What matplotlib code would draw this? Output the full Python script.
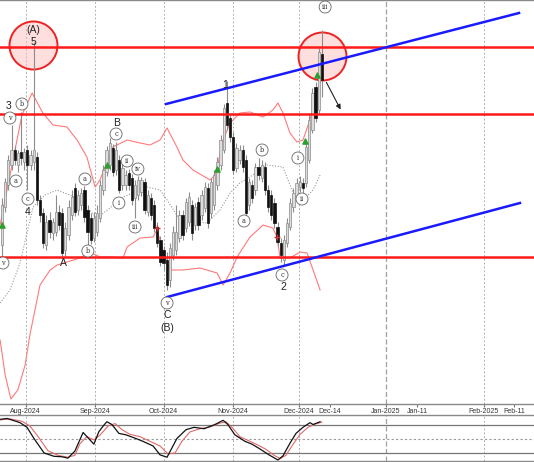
import matplotlib
matplotlib.use("Agg")
import matplotlib.pyplot as plt

# ---------------- data (price units, bar index) ----------------
opens = [159,197,219,239,254,239,252,242,254,239,242,247,204,191,159,184,171,172,192,191,
         154,169,189,216,194,199,214,194,186,166,172,186,214,232,239,256,234,244,219,219,
         231,226,206,209,212,222,192,206,199,177,164,154,144,124,149,154,166,189,176,182,
         199,179,202,189,196,216,191,199,219,239,254,301,286,267,236,244,254,244,199,219,
         214,237,226,237,214,209,201,177,161,144,161,177,197,207,217,221,221,244,274,317,
         294,350]
closes = [199,222,244,254,244,251,246,252,239,249,254,204,189,161,182,172,182,192,179,151,
          176,197,207,192,209,211,187,172,164,186,191,219,234,254,261,232,254,214,236,229,
          219,204,219,224,224,194,209,189,176,161,142,141,119,156,172,172,189,169,202,207,
          171,197,179,209,217,181,222,229,242,264,296,279,267,234,256,254,237,191,222,206,
          237,229,239,214,197,189,181,162,149,164,181,201,211,221,222,216,257,284,311,286,
          352,324]
highs = [206,226,249,279,258,254,292,256,259,254,362,252,209,196,189,192,186,209,199,196,
         182,204,214,221,214,216,218,199,191,192,199,224,239,258,266,260,262,249,241,234,
         235,230,224,228,227,226,214,211,204,182,168,158,152,161,178,199,194,194,206,212,
         204,201,207,214,222,221,226,234,247,269,300,323,291,272,261,259,259,249,226,224,
         241,246,244,242,219,214,206,182,166,169,186,206,216,226,228,226,262,289,316,322,
         356,374]
lows = [146,192,214,234,239,232,239,234,214,234,234,199,182,156,154,166,164,168,174,146,
        148,164,184,188,189,194,182,159,160,162,168,182,209,228,234,228,229,211,214,214,
        214,199,186,204,208,190,188,184,172,157,138,134,114,117,144,149,162,164,172,178,
        164,174,174,184,192,176,186,194,214,234,251,274,262,230,232,240,232,188,194,201,
        209,224,222,209,192,184,176,158,142,138,157,174,192,204,212,211,217,241,271,282,
        290,307]

# Bollinger bands (bar index, price)
bb_up_x = [-0.6,1.9,4.1,6.3,9.5,12.9,16.1,20.5,23.7,26.8,29.4,30.9,33.1,35.0,39.5,43.6,46.7,49.9,
           52.1,55.2,57.1,60.3,65.7,67.2,67.9,69.4,72.0,75.1,78.3,82.4,85.5,87.1,88.7,90.9,93.1,
           95.0,97.2,99.4,101.0]
bb_up_y = [179,219,254,289,311,291,279,277,264,247,217,224,241,257,264,261,259,264,
           276,257,244,234,224,229,234,261,281,291,292,287,294,301,291,271,262,
           264,284,311,329]
bb_lo_x = [-0.6,1,2.8,5,7.3,8.8,10.4,12,15.2,17.4,20.5,24.6,27.8,30.9,34.1,38.2,39.5,43.6,47.7,
           48.9,50.8,53,57.1,62.5,67.9,69.8,72,74.2,78.3,82.4,85.5,86.8,87.8,90.9,94.1,96.3,98.2,100.4]
bb_lo_y = [64,29,5,14,39,69,94,119,134,139,142,146,152,147,147,146,157,166,167,
           174,154,134,134,136,131,119,131,147,167,179,176,167,146,146,152,151,134,114]
bb_mid_x = [-0.6,2.5,5.7,9.8,13.6,17.4,23.7,30.0,34.1,38.2,45.8,49.9,52.1,56.2,64.7,68.8,72.0,
            75.1,79.2,83.6,88.7,91.9,95.0,98.2,100.4]
bb_mid_y = [101,114,141,197,209,214,206,186,196,207,217,214,204,184,181,194,211,
            221,229,239,237,211,204,214,229]

# Stochastic oscillator
stk_x = [-0.6,1.6,5.7,7.9,10.1,13.3,16.4,18.9,20.8,23.0,25.6,27.5,29.0,30.6,32.2,33.1,34.7,36.9,
         39.1,42.3,44.5,47.7,49.9,52.1,55.2,58.1,60.6,63.8,67.2,69.8,71.3,73.5,76.7,78.9,81.1,
         84.3,87.1,88.7,90.9,92.8,95.0,97.2,98.2,100.4]
stk_k = [92,94,85,75,51,20,13,12,9,24,64,50,39,66,80,87,81,62,59,51,45,35,16,11,51,70,75,72,81,
         90,81,59,45,39,30,16,5,14,41,62,75,85,81,87]
std_x = [-0.6,2.5,6.3,8.8,11.4,14.5,17.7,20.8,23.0,24.6,26.8,29.0,30.9,33.5,35.7,37.9,40.4,43.6,
         46.7,49.9,52.4,54.6,56.8,59.3,62.5,65.7,68.8,70.7,72.6,75.1,78.3,80.8,83.3,85.9,87.8,
         89.6,91.5,94.1,96.6,98.8,101.0]
std_d = [91,93,88,78,55,25,15,11,15,40,55,48,58,78,83,70,60,55,45,35,18,20,45,65,72,76,84,87,75,
         55,45,37,28,15,8,15,35,60,75,82,86]

# horizontal levels and trend lines
levels = [357, 290, 147]
up_trend = ([51.8, 163.2], [300, 391])
lo_trend = ([52.1, 163.5], [107, 201])

# date axis
tick_pos = [7.42, 29.48, 50.98, 72.79, 93.66, 103.44, 121.2, 131.0, 152.0, 161.6]
tick_lab = ["Aug-2024", "Sep-2024", "Oct-2024", "Nov-2024", "Dec-2024", "Dec-14",
            "Jan-2025", "Jan-11", "Feb-2025", "Feb-11"]
grid_pos = [7.42, 29.48, 50.98, 72.79, 93.66, 152.0]
grid_major = [121.2]

# wave labels
wave_txt = ["(A)", "5", "3", "4", "A", "B", "C", "(B)", "1", "2"]
wave_x = [9.8, 9.8, 2.2, 8.2, 19.3, 36.3, 52.1, 52.1, 70.4, 88.7]
wave_y = [374, 362, 298, 192, 141, 281, 89, 76, 319, 117]
circ_txt = ["v", "b", "a", "c", "v", "a", "b", "c", "ii", "i", "iv", "iii", "v", "a", "b", "c",
            "i", "ii", "iii"]
circ_x = [2.5, 6.3, 4.4, 8.2, 0.3, 26.2, 27.1, 36.0, 39.5, 36.9, 42.9, 42.0, 52.1, 76.4, 82.1,
          88.4, 93.4, 94.7, 102.0]
circ_y = [286, 300, 223, 205, 141, 225, 153, 270, 243, 201, 235, 177, 101, 183, 254, 129, 246,
          205, 397]
zone_x = [9.8, 101.0]
zone_y = [359, 348]
sig_up_x = [0, 33.1, 67.9, 95.6, 99.4]
sig_up_y = [179, 239, 235, 263, 329]
sig_dn_x = [48.9, 86.8]
sig_dn_y = [176, 167]

# ---------------- figure ----------------
W, H = 534, 462
fig = plt.figure(figsize=(W / 100, H / 100), dpi=100)
ax = fig.add_axes([0, 58 / H, 1, 404 / H])
osc = fig.add_axes([0, 1 / H, 1, 46 / H])

xlim = (-0.631, 167.93)
for a in (ax, osc):
    a.set_xlim(*xlim)
    for g in grid_pos:
        a.axvline(g, color="#b0b0b0", lw=0.7, ls=(0, (2, 2)), zorder=0)
    for g in grid_major:
        a.axvline(g, color="#a0a0a0", lw=0.9, ls=(0, (4, 2)), zorder=0)
    for s in ("left", "right"):
        a.spines[s].set_visible(False)
    for s in ("top", "bottom"):
        a.spines[s].set_color("#8a8a8a")
        a.spines[s].set_linewidth(1.0)

ax.set_ylim(0, 404)
ax.set_yticks([])

# zones (circles)
ax.scatter(zone_x, zone_y, s=(48 * 0.72) ** 2, facecolor=(1, 0.75, 0.75, 0.5),
           edgecolor="#ee2222", linewidth=1.4, zorder=1)

# bands
ax.plot(bb_up_x, bb_up_y, color="#ff7a7a", lw=0.8, zorder=2)
ax.plot(bb_lo_x, bb_lo_y, color="#ff7a7a", lw=0.8, zorder=2)
ax.plot(bb_mid_x, bb_mid_y, color="#9a9a9a", lw=0.8, ls=(0, (1, 1.5)), zorder=2)

# candles
idx = list(range(len(opens)))
ax.vlines(idx, lows, highs, color="#8c8c8c", lw=0.8, zorder=3)
for i, (o, c) in enumerate(zip(opens, closes)):
    bull = c >= o
    ax.bar(i, abs(c - o) if abs(c - o) > 0.8 else 0.8, bottom=min(o, c), width=0.72,
           color="#dcdcdc" if bull else "#111111",
           edgecolor="#8a8a8a" if bull else "#111111", linewidth=0.5, zorder=4)

# levels & trend lines
for lv in levels:
    ax.axhline(lv, color="#ff1a1a", lw=1.8, zorder=5)
ax.plot(*up_trend, color="#1a1aff", lw=1.8, zorder=5)
ax.plot(*lo_trend, color="#1a1aff", lw=1.8, zorder=5)

# signals
ax.scatter(sig_up_x, sig_up_y, marker="^", s=14, color="#2e9e2e", zorder=6)
ax.scatter(sig_dn_x, sig_dn_y, marker="+", s=22, color="#d03030", linewidths=1, zorder=6)

# arrow
ax.annotate("", xy=(107.3, 292), xytext=(102.0, 324),
            arrowprops=dict(arrowstyle="-|>", color="#222222", lw=0.8, mutation_scale=7),
            zorder=6)

# labels
for t, x, y in zip(wave_txt, wave_x, wave_y):
    ax.text(x, y, t, ha="center", va="center", fontsize=7.5, color="#222222",
            family="Liberation Sans", zorder=7)
for t, x, y in zip(circ_txt, circ_x, circ_y):
    ax.text(x, y, t, ha="center", va="center", fontsize=4.8, color="#333333",
            family="DejaVu Serif", zorder=7,
            bbox=dict(boxstyle="circle,pad=0.3", fc="white", ec="#666666", lw=0.6))

# date ticks
ax.set_xticks(tick_pos)
ax.set_xticklabels(tick_lab, fontsize=5, color="#333333", family="Liberation Sans")
ax.tick_params(axis="x", length=2, pad=1, color="#777777")

# oscillator
osc.set_ylim(2.9, 101.4)
osc.set_yticks([])
osc.set_xticks([])
osc.axhline(80, color="#777777", lw=0.9)
osc.axhline(20, color="#777777", lw=0.9)
osc.axhline(50, color="#999999", lw=0.8, ls=(0, (2, 2)))
osc.plot(std_x, std_d, color="#e06a6a", lw=0.8)
osc.plot(stk_x, stk_k, color="#111111", lw=0.9)

fig.savefig("out.png", dpi=100)
